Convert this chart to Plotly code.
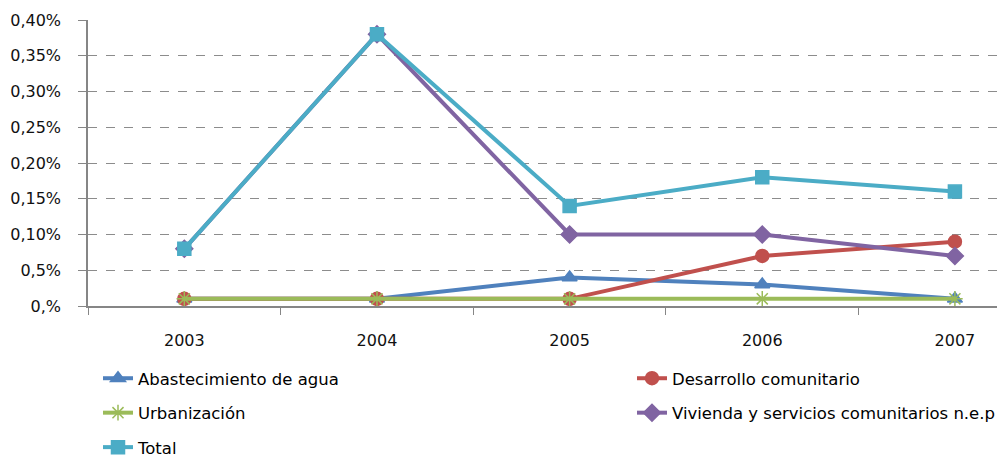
import plotly.graph_objects as go

# data (values in %)
years = ["2003", "2004", "2005", "2006", "2007"]
abastecimiento = [0.01, 0.01, 0.04, 0.03, 0.01]
desarrollo = [0.01, 0.01, 0.01, 0.07, 0.09]
urbanizacion = [0.01, 0.01, 0.01, 0.01, 0.01]
vivienda = [0.08, 0.38, 0.10, 0.10, 0.07]
total = [0.08, 0.38, 0.14, 0.18, 0.16]

y_ticks = [0, 0.05, 0.10, 0.15, 0.20, 0.25, 0.30, 0.35, 0.40]
y_labels = ["0,%", "0,5%", "0,10%", "0,15%", "0,20%", "0,25%", "0,30%", "0,35%", "0,40%"]

font = "DejaVu Sans, sans-serif"
W, H = 997, 451  # page adds an 8px body margin

series = [
    ("Abastecimiento de agua", abastecimiento, "#4F81BD", "triangle-up", "legend"),
    ("Desarrollo comunitario", desarrollo, "#C0504D", "circle", "legend2"),
    ("Urbanización", urbanizacion, "#9BBB59", "asterisk-open", "legend"),
    ("Vivienda y servicios comunitarios n.e.p", vivienda, "#8064A2", "diamond", "legend2"),
    ("Total", total, "#4BACC6", "square", "legend"),
]

fig = go.Figure()
for name, vals, color, symbol, leg in series:
    fig.add_trace(go.Scatter(
        x=years, y=vals, name=name, mode="lines+markers",
        line=dict(color=color, width=4),
        marker=dict(symbol=symbol, size=13, color=color, line=dict(color=color, width=1.5)),
        legend=leg, legendgroup=name,
    ))

leg_common = dict(yref="container", xref="container", yanchor="top", xanchor="left",
                  traceorder="grouped", tracegroupgap=10, font=dict(size=16.5, family=font),
                  bgcolor="rgba(0,0,0,0)")
fig.update_layout(
    width=W, height=H,
    margin=dict(l=80, r=0, t=12, b=153, autoexpand=False),
    plot_bgcolor="white", paper_bgcolor="white",
    font=dict(family=font, size=16, color="black"),
    showlegend=True,
    legend=dict(x=90 / W, y=1 - 353 / H, **leg_common),
    legend2=dict(x=624 / W, y=1 - 353 / H, **leg_common),
)
fig.update_xaxes(
    type="category", range=[-0.5, 4.26], automargin=False,
    showline=True, linecolor="#868686", linewidth=1.5,
    ticks="outside", tickson="boundaries", ticklen=7, tickcolor="#868686",
    ticklabelstandoff=19, tickangle=0,
    showgrid=False, tickfont=dict(size=16, family=font, color="#111"),
)
fig.update_yaxes(
    range=[0, 0.40], tickvals=y_ticks, ticktext=y_labels, automargin=False,
    showline=True, linecolor="#868686", linewidth=1.5,
    ticks="outside", ticklen=8, tickcolor="#868686",
    ticklabelstandoff=14,
    showgrid=True, gridcolor="#8c8c8c", griddash="dash", gridwidth=1,
    zeroline=False, tickfont=dict(size=16, family=font, color="#111"),
)

fig.write_html("out.html")
